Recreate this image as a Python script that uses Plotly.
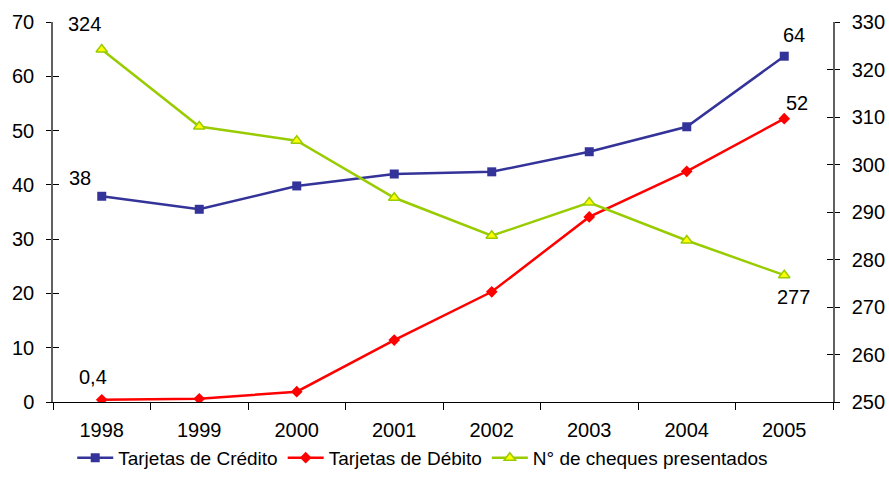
import plotly.graph_objects as go

years = ["1998", "1999", "2000", "2001", "2002", "2003", "2004", "2005"]
credito = [37.9, 35.5, 39.8, 42.0, 42.4, 46.1, 50.7, 63.7]
debito = [0.4, 0.6, 1.9, 11.4, 20.3, 34.1, 42.5, 52.2]
cheques = [324.2, 308.0, 305.0, 293.0, 285.0, 292.0, 284.0, 276.7]

left_ticks = [0, 10, 20, 30, 40, 50, 60, 70]
right_ticks = [250, 260, 270, 280, 290, 300, 310, 320, 330]

FONT = "Liberation Sans, Arial, sans-serif"
FS = 20

fig = go.Figure()
fig.add_trace(go.Scatter(
    x=years, y=credito, name="Tarjetas de Crédito", mode="lines+markers",
    line=dict(color="#333399", width=2.5),
    marker=dict(symbol="square", size=9, color="#333399"),
))
fig.add_trace(go.Scatter(
    x=years, y=debito, name="Tarjetas de Débito", mode="lines+markers",
    line=dict(color="#FF0000", width=2.5),
    marker=dict(symbol="diamond", size=9, color="#FF0000"),
))
fig.add_trace(go.Scatter(
    x=years, y=cheques, name="N° de cheques presentados", mode="lines+markers",
    yaxis="y2",
    line=dict(color="#99CC00", width=2.5),
    marker=dict(symbol="triangle-up", size=10, color="#FFFF00",
                line=dict(color="#99CC00", width=1.5)),
))

ann = []
def lab(i, y, text, yref, xs, ys):
    ann.append(dict(x=i, y=y, xref="x", yref=yref, text=text, showarrow=False,
                    xshift=xs, yshift=ys, font=dict(size=FS, color="black", family=FONT)))

last = len(years) - 1
lab(0, cheques[0], "324", "y2", -17, 26)
lab(0, credito[0], "38", "y", -22, 18)
lab(0, debito[0], "0,4", "y", -9, 23)
lab(last, credito[last], "64", "y", 10, 21)
lab(last, debito[last], "52", "y", 13, 16)
lab(last, cheques[last], "277", "y2", 9, -22)

axis_common = dict(showgrid=False, zeroline=False, tickfont=dict(size=FS), automargin=False)

fig.update_layout(
    width=889, height=498,
    margin=dict(l=53, r=56, t=22, b=96),
    paper_bgcolor="white", plot_bgcolor="white",
    font=dict(family=FONT, size=FS, color="black"),
    showlegend=True,
    legend=dict(orientation="h", x=0.474, xanchor="center", y=-0.147, yanchor="middle",
                font=dict(family=FONT, size=19), tracegroupgap=0, itemwidth=36),
    annotations=ann,
    xaxis=dict(
        type="category", range=[-0.5, 7.5], tickson="boundaries",
        ticks="outside", ticklen=7, tickcolor="black", tickwidth=1,
        showline=True, linecolor="black", linewidth=1,
        ticklabelstandoff=10, **axis_common,
    ),
    yaxis=dict(
        range=[0, 70], tickvals=left_ticks, ticks="outside", ticklen=5,
        tickcolor="black", showline=True, linecolor="#606060", linewidth=1.5,
        ticklabelstandoff=8, **axis_common,
    ),
    yaxis2=dict(
        range=[250, 330], tickvals=right_ticks, overlaying="y", side="right",
        ticks="outside", ticklen=5, tickcolor="black", showline=True,
        linecolor="#606060", linewidth=1.5, ticklabelstandoff=8, **axis_common,
    ),
    yaxis3=dict(
        range=[0, 70], tickvals=left_ticks, overlaying="y", side="left",
        ticks="inside", ticklen=6, tickcolor="black", showticklabels=False,
        showline=False, showgrid=False, zeroline=False, automargin=False,
    ),
    yaxis4=dict(
        range=[250, 330], tickvals=right_ticks, overlaying="y", side="right",
        ticks="inside", ticklen=6, tickcolor="black", showticklabels=False,
        showline=False, showgrid=False, zeroline=False, automargin=False,
    ),
)
# invisible helper traces so the inner tick axes are drawn
fig.add_trace(go.Scatter(x=[years[0]], y=[left_ticks[0]], yaxis="y3", mode="markers",
                         marker=dict(opacity=0), showlegend=False, hoverinfo="skip"))
fig.add_trace(go.Scatter(x=[years[0]], y=[right_ticks[0]], yaxis="y4", mode="markers",
                         marker=dict(opacity=0), showlegend=False, hoverinfo="skip"))

fig.write_html("out.html")
